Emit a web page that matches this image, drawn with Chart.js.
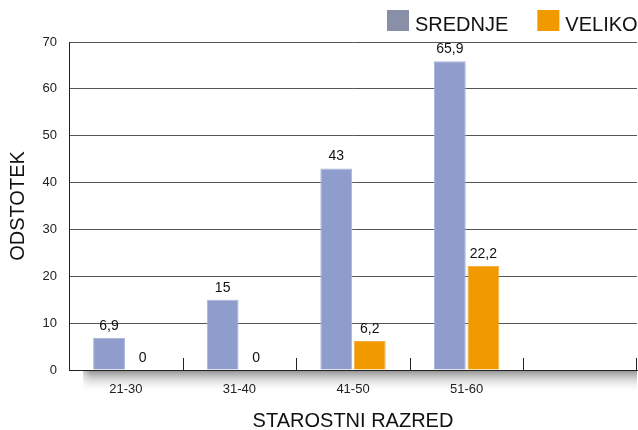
<!DOCTYPE html>
<html>
<head>
<meta charset="utf-8">
<script src="https://cdn.jsdelivr.net/npm/chart.js@4.4.0/dist/chart.umd.min.js"></script>
<style>
  html, body { margin: 0; padding: 0; background: #fff; }
  #wrap { width: 638px; height: 430px; }
</style>
</head>
<body>
<div id="wrap"><canvas id="razred-chart"></canvas></div>
<script>
var categories = ["21-30", "31-40", "41-50", "51-60", ""];
var srednje = [6.9, 15, 43, 65.9, null];
var veliko = [0, 0, 6.2, 22.2, null];
var yTicks = [0, 10, 20, 30, 40, 50, 60, 70];
var seriesNames = ["SREDNJE", "VELIKO"];

var FONT = "'Liberation Sans', Arial, Helvetica, sans-serif";
var legendColors = ['#8a8fa8', '#f09a00'];

// gray shadow band under the x axis
var bandPlugin = {
    id: 'band',
    beforeDraw: function (chart) {
        var c = chart.ctx, a = chart.chartArea;
        var g = c.createLinearGradient(0, a.bottom, 0, a.bottom + 23);
        g.addColorStop(0, 'rgba(120,120,120,0.85)');
        g.addColorStop(1, 'rgba(255,255,255,0)');
        var gl = c.createLinearGradient(a.left + 6, 0, a.left + 22, 0);
        c.save();
        c.fillStyle = g;
        c.fillRect(a.left + 14, a.bottom, a.right - a.left - 14, 23);
        gl.addColorStop(0, 'rgba(255,255,255,1)');
        gl.addColorStop(1, 'rgba(255,255,255,0)');
        c.fillStyle = gl;
        c.fillRect(a.left + 6, a.bottom, 16, 23);
        c.restore();
    }
};

// legend drawn by hand (top right)
var legendPlugin = {
    id: 'legendbox',
    afterDraw: function (chart) {
        var c = chart.ctx;
        c.save();
        c.font = '20px ' + FONT;
        c.textAlign = 'left';
        c.textBaseline = 'alphabetic';
        var x = 387;
        seriesNames.forEach(function (name, i) {
            c.fillStyle = legendColors[i];
            c.fillRect(x, 10, 22, 21);
            c.fillStyle = '#111';
            c.fillText(name, x + 28, 31);
            x += 28 + c.measureText(name).width + 29;
        });
        c.restore();
    }
};

// inward tick marks between categories + value labels
var labelPlugin = {
    id: 'labels',
    afterDatasetsDraw: function (chart) {
        var c = chart.ctx, a = chart.chartArea, x = chart.scales.x;
        c.save();
        c.strokeStyle = '#222';
        c.lineWidth = 1;
        for (var i = 0; i < categories.length; i++) {
            var px;
            if (i < categories.length - 1) {
                px = (x.getPixelForValue(i) + x.getPixelForValue(i + 1)) / 2;
            } else {
                px = a.right - 1;
            }
            px = Math.round(px) + 0.5;
            c.beginPath();
            c.moveTo(px, a.bottom);
            c.lineTo(px, a.bottom - 12);
            c.stroke();
        }
        c.font = '14px ' + FONT;
        c.fillStyle = '#111';
        c.textAlign = 'center';
        c.textBaseline = 'bottom';
        chart.data.datasets.forEach(function (ds, di) {
            chart.getDatasetMeta(di).data.forEach(function (bar, j) {
                var v = ds.data[j];
                if (v === null) return;
                c.fillText(String(v).replace('.', ','), bar.x, bar.y - 5);
            });
        });
        c.restore();
    }
};

var ctx = document.getElementById("razred-chart");

var myChart = new Chart(ctx, {
    type: 'bar',
    data: {
        labels: categories,
        datasets: [{
            label: seriesNames[0],
            data: srednje,
            backgroundColor: '#8f9dcc',
            borderColor: '#a9b4da',
            borderWidth: 1,
            categoryPercentage: 0.59,
            barPercentage: 0.95
        }, {
            label: seriesNames[1],
            data: veliko,
            backgroundColor: '#f09a00',
            borderColor: '#f3b040',
            borderWidth: 1,
            categoryPercentage: 0.59,
            barPercentage: 0.95
        }]
    },
    options: {
        responsive: true,
        maintainAspectRatio: false,
        animation: false,
        layout: { padding: { top: 42, right: 1, left: 0, bottom: 0 } },
        plugins: {
            legend: { display: false },
            tooltip: { enabled: false }
        },
        scales: {
            x: {
                grid: { display: false, drawTicks: false },
                border: { color: '#222', width: 1 },
                ticks: { color: '#222', font: { family: FONT, size: 13 }, padding: 12, maxRotation: 0 },
                title: { display: true, text: 'STAROSTNI RAZRED', color: '#111', font: { family: FONT, size: 20 }, padding: { top: 0, bottom: -3 } },
                afterFit: function (s) { s.height = 60; }
            },
            y: {
                min: 0,
                max: 70,
                afterBuildTicks: function (s) { s.ticks = yTicks.map(function (v) { return { value: v }; }); },
                grid: { color: '#555', drawTicks: false, lineWidth: 1 },
                border: { color: '#222', width: 1 },
                ticks: { color: '#222', font: { family: FONT, size: 13 }, padding: 12 },
                title: { display: true, text: 'ODSTOTEK', color: '#111', font: { family: FONT, size: 20 }, padding: { top: 6, bottom: 0 } },
                afterFit: function (s) { s.width = 69; }
            }
        }
    },
    plugins: [bandPlugin, labelPlugin, legendPlugin]
});
</script>
</body>
</html>
